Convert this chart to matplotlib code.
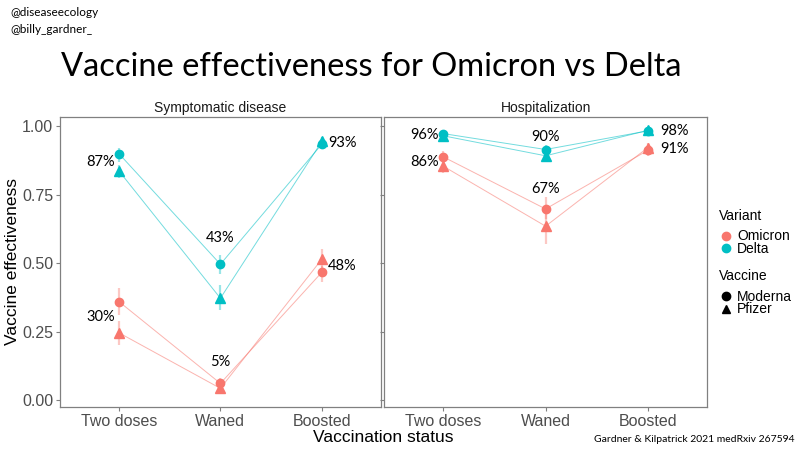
import matplotlib
matplotlib.use("Agg")
import matplotlib.pyplot as plt
from matplotlib.lines import Line2D
import numpy as np

categories = ["Two doses", "Waned", "Boosted"]
panels = ["Symptomatic disease", "Hospitalization"]
variants = ["Omicron", "Delta"]
vaccines = ["Moderna", "Pfizer"]

# Symptomatic disease
sym_omi_mod = [0.36, 0.061, 0.467]
sym_omi_mod_lo = [0.31, 0.04, 0.43]
sym_omi_mod_hi = [0.41, 0.08, 0.49]
sym_omi_pf = [0.246, 0.043, 0.515]
sym_omi_pf_lo = [0.20, 0.03, 0.48]
sym_omi_pf_hi = [0.29, 0.06, 0.55]
sym_del_mod = [0.90, 0.496, 0.935]
sym_del_mod_lo = [0.87, 0.46, 0.92]
sym_del_mod_hi = [0.92, 0.53, 0.95]
sym_del_pf = [0.837, 0.372, 0.945]
sym_del_pf_lo = [0.81, 0.33, 0.93]
sym_del_pf_hi = [0.86, 0.42, 0.96]

# Hospitalization
hosp_omi_mod = [0.888, 0.698, 0.912]
hosp_omi_mod_lo = [0.86, 0.66, 0.89]
hosp_omi_mod_hi = [0.91, 0.74, 0.93]
hosp_omi_pf = [0.854, 0.635, 0.922]
hosp_omi_pf_lo = [0.83, 0.57, 0.90]
hosp_omi_pf_hi = [0.87, 0.69, 0.94]
hosp_del_mod = [0.973, 0.915, 0.983]
hosp_del_mod_lo = [0.96, 0.90, 0.975]
hosp_del_mod_hi = [0.98, 0.93, 0.99]
hosp_del_pf = [0.965, 0.892, 0.985]
hosp_del_pf_lo = [0.955, 0.88, 0.975]
hosp_del_pf_hi = [0.975, 0.905, 0.99]

# Average-effectiveness labels
sym_omi_labels = ["30%", "5%", "48%"]
sym_del_labels = ["87%", "43%", "93%"]
hosp_omi_labels = ["86%", "67%", "91%"]
hosp_del_labels = ["96%", "90%", "98%"]

yticks = [0.0, 0.25, 0.5, 0.75, 1.0]
ytick_labels = ["0.00", "0.25", "0.50", "0.75", "1.00"]

colors = {"Omicron": "#F8766D", "Delta": "#00BFC4"}
markers = {"Moderna": "o", "Pfizer": "^"}

data = {
    0: {
        ("Omicron", "Moderna"): (sym_omi_mod, sym_omi_mod_lo, sym_omi_mod_hi),
        ("Omicron", "Pfizer"): (sym_omi_pf, sym_omi_pf_lo, sym_omi_pf_hi),
        ("Delta", "Moderna"): (sym_del_mod, sym_del_mod_lo, sym_del_mod_hi),
        ("Delta", "Pfizer"): (sym_del_pf, sym_del_pf_lo, sym_del_pf_hi),
    },
    1: {
        ("Omicron", "Moderna"): (hosp_omi_mod, hosp_omi_mod_lo, hosp_omi_mod_hi),
        ("Omicron", "Pfizer"): (hosp_omi_pf, hosp_omi_pf_lo, hosp_omi_pf_hi),
        ("Delta", "Moderna"): (hosp_del_mod, hosp_del_mod_lo, hosp_del_mod_hi),
        ("Delta", "Pfizer"): (hosp_del_pf, hosp_del_pf_lo, hosp_del_pf_hi),
    },
}
labels = {
    0: {"Omicron": sym_omi_labels, "Delta": sym_del_labels},
    1: {"Omicron": hosp_omi_labels, "Delta": hosp_del_labels},
}

fig = plt.figure(figsize=(8, 4.5), dpi=100)
fig.patch.set_facecolor("white")

ax_positions = [[0.075, 0.0956, 0.401, 0.644], [0.48, 0.0956, 0.404, 0.644]]
x = np.arange(1, len(categories) + 1)
label_xoff = {0: [-0.18, 0.0, 0.2], 1: [-0.18, 0.0, 0.26]}
waned_pad = {0: 0.035, 1: 0.005}
ann_font = ["Lato", "DejaVu Sans"]

axes = []
for p in range(2):
    ax = fig.add_axes(ax_positions[p])
    axes.append(ax)
    for (var, vac), (vals, lo, hi) in data[p].items():
        c = colors[var]
        ax.plot(x, vals, color=c, lw=0.7, alpha=0.55, zorder=2)
        ax.vlines(x, lo, hi, color=c, lw=1.6, alpha=0.4, zorder=2)
        ax.plot(x, vals, linestyle="none", marker=markers[vac], color=c,
                markersize=6 if vac == "Moderna" else 6.5, zorder=3)
    for var in variants:
        mod = data[p][(var, "Moderna")]
        pf = data[p][(var, "Pfizer")]
        for i in range(3):
            xi = x[i] + label_xoff[p][i]
            if i == 1:
                yi = max(mod[2][i], pf[2][i]) + waned_pad[p]
                va = "bottom"
            else:
                yi = (mod[0][i] + pf[0][i]) / 2
                va = "center"
            ax.text(xi, yi, labels[p][var][i], ha="center", va=va,
                    fontsize=10.5, family=ann_font, color="black", zorder=4)
    ax.set_xlim(0.42, 3.58)
    ax.set_ylim(-0.025, 1.033)
    ax.set_xticks(x)
    ax.set_xticklabels(categories, fontsize=11.5, color="#4d4d4d",
                       family="Liberation Sans")
    ax.set_yticks(yticks)
    if p == 0:
        ax.set_yticklabels(ytick_labels, fontsize=11.5, color="#4d4d4d",
                           family="Liberation Sans")
    else:
        ax.set_yticklabels([])
        ax.tick_params(axis="y", length=0)
    ax.tick_params(axis="both", color="#808080", length=3, width=0.8, pad=2)
    for s in ax.spines.values():
        s.set_color("#808080")
        s.set_linewidth(0.9)
    ax.set_title(panels[p], fontsize=10, family="Liberation Sans",
                 color="#1a1a1a", pad=4)

fig.text(0.464, 0.85, "Vaccine effectiveness for Omicron vs Delta",
         ha="center", va="center", fontsize=23.5, family=ann_font)
fig.text(0.479, 0.028, "Vaccination status", ha="center", va="center",
         fontsize=12.5, family="Liberation Sans")
fig.text(0.016, 0.418, "Vaccine effectiveness", ha="center", va="center",
         rotation=90, fontsize=12.5, family="Liberation Sans")
fig.text(0.013, 0.973, "@diseaseecology", ha="left", va="center",
         fontsize=8.5, family=ann_font)
fig.text(0.013, 0.935, "@billy_gardner_", ha="left", va="center",
         fontsize=8.5, family=ann_font)
fig.text(0.993, 0.023, "Gardner & Kilpatrick 2021 medRxiv 267594",
         ha="right", va="center", fontsize=7.5, family=ann_font)

var_handles = [Line2D([], [], marker="o", linestyle="none", color=colors[v],
                      markersize=6) for v in variants]
vac_handles = [Line2D([], [], marker=markers[v], linestyle="none",
                      color="black", markersize=6) for v in vaccines]
leg_kw = dict(frameon=False, title_fontsize=10,
              handletextpad=0.3, labelspacing=-0.1, borderpad=0,
              handlelength=1.0, prop={"family": "Liberation Sans", "size": 10})
leg1 = fig.legend(var_handles, variants, title="Variant", loc="upper left",
                  bbox_to_anchor=(0.89, 0.552), **leg_kw)
leg2 = fig.legend(vac_handles, vaccines, title="Vaccine", loc="upper left",
                  bbox_to_anchor=(0.89, 0.418), **leg_kw)
for leg in (leg1, leg2):
    leg._legend_box.align = "left"
    leg._legend_box.sep = 5
    leg.get_title().set_family("Liberation Sans")

fig.savefig("out.png", dpi=100, facecolor="white")
